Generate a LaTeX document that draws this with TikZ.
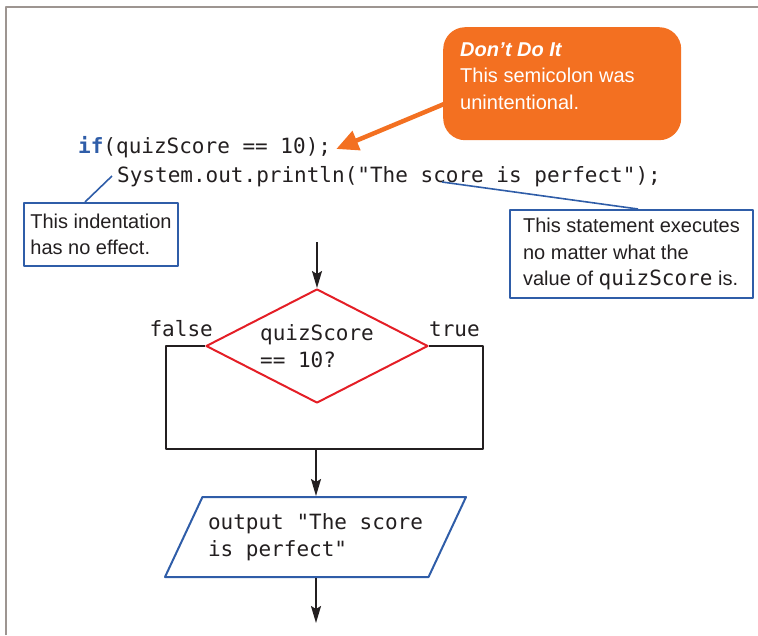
\documentclass[tikz,border=0pt]{standalone}
\usepackage{fontspec}
\setmainfont{Liberation Sans}
\setmonofont{DejaVu Sans Mono}
\usetikzlibrary{arrows.meta,shapes.geometric}
\definecolor{noteblue}{HTML}{2F5DA8}
\definecolor{condred}{HTML}{E41E26}
\definecolor{dontorange}{HTML}{F37021}
\definecolor{ink}{HTML}{231F20}
\definecolor{framegray}{HTML}{9D9591}
\newcommand\codesize{\fontsize{21}{26.5}\selectfont\ttfamily}
\newcommand\notesize{\fontsize{20}{26.5}\selectfont}

\begin{document}
\begin{tikzpicture}[x=1pt, y=-1pt, line join=round, text=ink,
    >={Stealth[length=17pt,width=10pt,inset=3pt]},
    code/.style={inner sep=0pt, anchor=base west, font=\codesize},
    note/.style={draw=noteblue, line width=2pt, anchor=north west, align=left, inner sep=0pt, font=\notesize},
    pointer/.style={draw=noteblue, line width=1.6pt},
    flow/.style={draw=ink, line width=1.8pt},
    decision/.style={diamond, draw=condred, line width=2pt, aspect=1.95, inner sep=0pt,
      minimum width=222pt, minimum height=114pt, align=left, font=\codesize},
    io/.style={trapezium, trapezium left angle=55, trapezium right angle=125, trapezium stretches body,
      draw=noteblue, line width=2pt, minimum width=301pt, minimum height=80pt, align=left, font=\codesize}]
  \useasboundingbox (0,0) rectangle (758,635);
  % frame
  \draw[framegray, line width=1.5pt] (6,635) -- (6,7) -- (758,7);
  % code
  \node[code] (ifline) at (78,153) {\textcolor{noteblue}{\textbf{if}}(quizScore == 10);};
  \node[code] (printline) at (117,182) {System.out.println("The score is perfect");};
  \coordinate (indentmark) at (112,176);
  \coordinate (scoremark) at (442,182);
  % callouts
  \node[fill=dontorange, rounded corners=22pt, anchor=north west, minimum width=238pt, minimum height=113pt] (dont) at (443,27) {};
  \node[anchor=north west, inner sep=0pt, align=left, font=\notesize, text=white] (dontmsg) at (460,42.5)
    {\textbf{\textit{Don’t Do It}}\\This semicolon was\\unintentional.};
  \draw[dontorange, line width=4.5pt, -{Triangle[length=22pt,width=20pt]}]
    ([xshift=3pt,yshift=-19.5pt]dont.west) -- ([xshift=5pt,yshift=4pt]ifline.base east);
  \node[note, minimum width=154pt, minimum height=63pt] (indentnote) at (23,202) {This indentation\\has no effect.};
  \node[note, minimum width=243pt, minimum height=88pt] (execnote) at (509,209)
    {This statement executes\\no matter what the\\value of {\codesize quizScore} is.};
  \draw[pointer] (indentmark) -- ([xshift=62pt]indentnote.north west);
  \draw[pointer] (scoremark) -- ([xshift=129pt]execnote.north west);
  % flowchart
  \coordinate (entry) at (317,242);
  \node[decision] (cond) at (317,346) {quizScore\\== 10?};
  \node[code, anchor=base east] (falselbl) at (213,336) {false};
  \node[code] (truelbl) at (429,336) {true};
  \coordinate (joinpt) at (316,449);
  \node[io] (outbox) at (315.5,537) {output "The score\\is perfect"};
  \coordinate (exitpt) at (316,623);
  \draw[flow,->] (entry) -- (cond.north);
  \draw[flow] (cond.west) -- ++(-39,0) |- (joinpt);
  \draw[flow] (cond.east) -- ++(54,0) |- (joinpt);
  \draw[flow,->] (joinpt) -- (joinpt |- outbox.north);
  \draw[flow,->] (exitpt |- outbox.south) -- (exitpt);
\end{tikzpicture}
\end{document}
